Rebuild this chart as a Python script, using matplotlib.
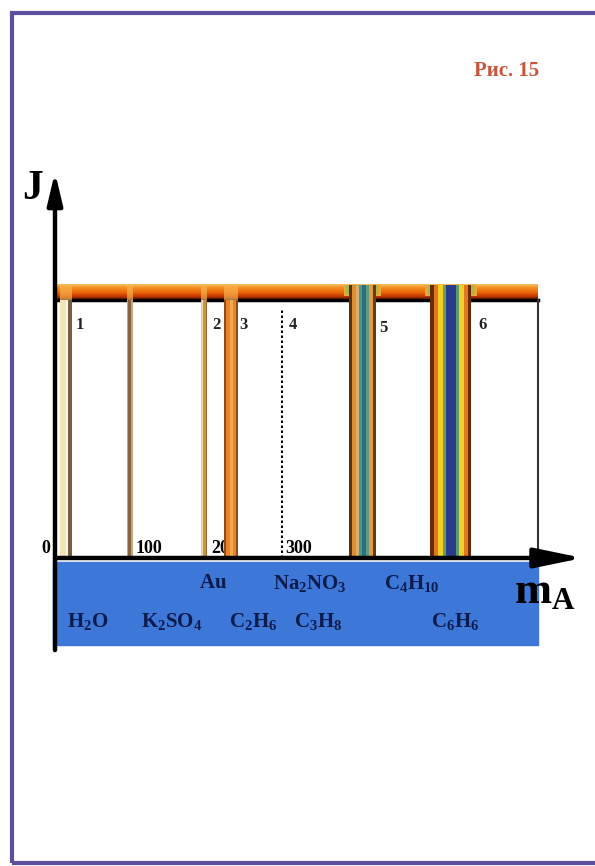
import numpy as np
import matplotlib.pyplot as plt
from matplotlib.patches import Rectangle
from matplotlib.colors import LinearSegmentedColormap

plt.rcParams['font.family'] = ['Liberation Serif', 'DejaVu Serif']
plt.rcParams['font.weight'] = 'bold'
plt.rcParams['mathtext.fontset'] = 'custom'
plt.rcParams['mathtext.rm'] = 'Liberation Serif:bold'
plt.rcParams['mathtext.it'] = 'Liberation Serif:bold'
plt.rcParams['mathtext.bf'] = 'Liberation Serif:bold'

# m_A positions of the lines
peak_pos = [12, 97, 196, 232, 407, 525]
wide_peaks = [407, 525]
dotted_pos = 300
# colour stripes of each line, left to right: (colour, width in m_A)
peak_stripes = [
    [('#f3e4b4', 8), ('#fbf6e6', 3), ('#7a5c3e', 5)],
    [('#c6a576', 2.5), ('#86643f', 3.5), ('#c6a576', 2.5)],
    [('#ecd2a0', 2.5), ('#cf9440', 4), ('#9a6a30', 2.5)],
    [('#8e4c1c', 2.5), ('#e8842a', 5), ('#f6a850', 4), ('#e8842a', 4), ('#8e4c1c', 2.5)],
    [('#5a3212', 4), ('#e08c32', 5), ('#d4b070', 4), ('#4a9a86', 5), ('#2e6e7e', 5),
     ('#5a9c86', 4), ('#e29a40', 5), ('#6a3a12', 4)],
    [('#6a2a08', 5), ('#e0781e', 5), ('#f2cf22', 7), ('#6aa052', 4), ('#2a3a8c', 13),
     ('#5a9a6a', 4), ('#f0d030', 7), ('#e0781e', 5), ('#6a2a08', 5)],
]

line_nums = ['1', '2', '3', '4', '5', '6']
line_num_x = [31, 212, 249, 315, 435, 567]
line_num_y = [0.903, 0.903, 0.903, 0.903, 0.891, 0.903]

tick_vals = [0, 100, 200, 300]
tick_labels = ['0', '100', '200', '300']

row1_names = [r'$\mathrm{Au}$', r'$\mathrm{Na_2NO_3}$', r'$\mathrm{C_4H_{10}}$']
row1_x = [208, 337, 473]
row2_names = [r'$\mathrm{H_2O}$', r'$\mathrm{K_2SO_4}$', r'$\mathrm{C_2H_6}$',
              r'$\mathrm{C_3H_8}$', r'$\mathrm{C_6H_6}$']
row2_x = [41, 153, 261, 348, 531]

m_end = 641
band_lo, band_hi = 1.0, 1.06

fig = plt.figure(figsize=(5.95, 8.66), dpi=100)
ax = fig.add_axes([0, 0, 1, 1])
ax.set_xlim(-76, 717.33)
ax.set_ylim(-1.194, 2.163)
ax.axis('off')

# orange band on top
band_cmap = LinearSegmentedColormap.from_list(
    'band', ['#5a1000', '#c83c00', '#ec6a0c', '#f28a1c', '#f9c060'])
grad = np.linspace(0, 1, 50).reshape(-1, 1)
ax.imshow(grad, cmap=band_cmap, origin='lower', aspect='auto',
          extent=[0, m_end, band_lo, band_hi], zorder=1)
ax.plot([0, m_end], [band_lo, band_lo], color='black', lw=2.5, zorder=2)
ax.plot([m_end, m_end], [0, band_lo], color='#333333', lw=1.5, zorder=2)

# the lines
for pos, stripes in zip(peak_pos, peak_stripes):
    total = sum(w for c, w in stripes)
    left = pos - total / 2
    top = band_hi if pos in wide_peaks else band_lo
    if pos in wide_peaks:
        ax.bar(pos, band_hi - 1.015, width=total + 14, bottom=1.015,
               color='#e8a838', linewidth=0, zorder=3)
        ax.bar(pos, band_hi - 1.025, width=total + 7, bottom=1.025,
               color='#a8b848', linewidth=0, zorder=3)
    else:
        ax.bar(pos, band_hi - band_lo, width=total, bottom=band_lo,
               color='#f8b050', alpha=0.7, linewidth=0, zorder=3)
    for c, w in stripes:
        ax.bar(left, top, width=w, bottom=0, align='edge', color=c,
               linewidth=0, zorder=4)
        left += w

ax.plot([dotted_pos, dotted_pos], [0, 0.97], color='black', lw=1.5,
        linestyle=(0, (1.2, 1.2)), zorder=4)

for s, x, y in zip(line_nums, line_num_x, line_num_y):
    ax.text(x, y, s, fontsize=12, ha='center', va='center', color='#222222', zorder=5)

for v, s in zip(tick_vals, tick_labels):
    if v == 0:
        ax.text(-9, 0.035, s, fontsize=13, ha='right', va='center', zorder=2)
    else:
        ax.text(v + 5, 0.035, s, fontsize=13, ha='left', va='center', zorder=2)

# blue strip under the axis
ax.add_patch(Rectangle((-5.3, -0.337), m_end + 5.3, 0.321, color='#3d78d8', zorder=1))
for s, x in zip(row1_names, row1_x):
    ax.text(x, -0.097, s, fontsize=15, ha='center', va='center', color='#0c1b4d', zorder=5)
for s, x in zip(row2_names, row2_x):
    ax.text(x, -0.248, s, fontsize=15, ha='center', va='center', color='#0c1b4d', zorder=5)

# axes arrows
ax.annotate('', xy=(701, 0), xytext=(-2.67, 0),
            arrowprops=dict(arrowstyle='-|>,head_length=2.9,head_width=0.6',
                            lw=3.2, color='black', shrinkA=0, shrinkB=0,
                            mutation_scale=10), zorder=6)
ax.annotate('', xy=(-2.67, 1.496), xytext=(-2.67, -0.357),
            arrowprops=dict(arrowstyle='-|>,head_length=1.9,head_width=0.45',
                            lw=3.2, color='black', shrinkA=0, shrinkB=0,
                            mutation_scale=10), zorder=6)

ax.text(-32, 1.43, 'J', fontsize=30, ha='center', va='center')
ax.text(650, -0.13, r'$\mathrm{m_A}$', fontsize=32, ha='center', va='center')

fig.text(507 / 595, 1 - 71 / 866, 'Рис. 15', fontsize=15, ha='center', va='center',
         color='#c8553a')

fig.add_artist(Rectangle((12 / 595, 3 / 866), 1.0, 850 / 866, transform=fig.transFigure,
                         fill=False, edgecolor='#5b4f9e', lw=3))

fig.savefig('out.png', dpi=100)
